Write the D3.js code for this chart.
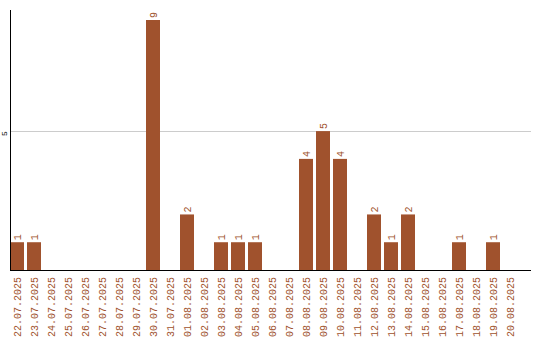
<!DOCTYPE html>
<html>
<head>
<meta charset="utf-8">
<script src="https://cdn.jsdelivr.net/npm/d3@7"></script>
<style>
    body { margin: 0; background: #fff; }
    .bar-label, .date-label { font-family: "Liberation Mono", "DejaVu Sans Mono", monospace; font-size: 10px; fill: #a0522d; }
    .tick-label { font-family: "Liberation Mono", monospace; font-size: 8px; fill: #000; }
</style>
</head>
<body>
<div id="chart"></div>
<script>
// Daily counts
const dates = ["22.07.2025", "23.07.2025", "24.07.2025", "25.07.2025", "26.07.2025", "27.07.2025",
    "28.07.2025", "29.07.2025", "30.07.2025", "31.07.2025", "01.08.2025", "02.08.2025",
    "03.08.2025", "04.08.2025", "05.08.2025", "06.08.2025", "07.08.2025", "08.08.2025",
    "09.08.2025", "10.08.2025", "11.08.2025", "12.08.2025", "13.08.2025", "14.08.2025",
    "15.08.2025", "16.08.2025", "17.08.2025", "18.08.2025", "19.08.2025", "20.08.2025"];
const counts = [1, 1, 0, 0, 0, 0, 0, 0, 9, 0, 2, 0, 1, 1, 1, 0, 0, 4, 5, 4, 0, 2, 1, 2, 0, 0, 1, 0, 1, 0];
const yTicks = [5];

const data = dates.map((d, i) => ({ date: d, count: counts[i] }));

const width = 540, height = 340;
const left = 10, baseY = 270, topY = 10, right = 531;

const svg = d3.select("#chart")
    .append("svg")
    .attr("width", width)
    .attr("height", height);

const x = d3.scaleBand()
    .domain(dates)
    .range([left, left + 17 * dates.length - 3])
    .paddingInner(3 / 17)
    .paddingOuter(0);

const y = d3.scaleLinear()
    .domain([0, 9.36])
    .range([baseY, topY]);

// gridlines
svg.selectAll(".grid")
    .data(yTicks)
    .join("line")
    .attr("x1", left + 1)
    .attr("x2", right)
    .attr("y1", d => Math.round(y(d)) + 0.5)
    .attr("y2", d => Math.round(y(d)) + 0.5)
    .attr("stroke", "#ccc");

// tick labels
svg.selectAll(".tick-label")
    .data(yTicks)
    .join("text")
    .attr("class", "tick-label")
    .attr("transform", d => `translate(7, ${y(d)}) rotate(-90)`)
    .attr("text-anchor", "end")
    .text(d => d);

// bars
svg.selectAll(".bar")
    .data(data.filter(d => d.count > 0))
    .join("rect")
    .attr("class", "bar")
    .attr("x", d => x(d.date))
    .attr("y", d => y(d.count))
    .attr("width", x.bandwidth())
    .attr("height", d => baseY - y(d.count))
    .attr("fill", "#a0522d");

// value labels
svg.selectAll(".bar-label")
    .data(data.filter(d => d.count > 0))
    .join("text")
    .attr("class", "bar-label")
    .attr("transform", d => `translate(${x(d.date) + x.bandwidth() / 2 + 3.5}, ${y(d.count) - 2}) rotate(-90)`)
    .attr("text-anchor", "start")
    .text(d => d.count);

// axes lines
svg.append("line")
    .attr("x1", left + 0.5).attr("x2", left + 0.5)
    .attr("y1", topY).attr("y2", baseY)
    .attr("stroke", "#000");
svg.append("line")
    .attr("x1", left).attr("x2", right)
    .attr("y1", baseY + 0.5).attr("y2", baseY + 0.5)
    .attr("stroke", "#000");

// date labels
svg.selectAll(".date-label")
    .data(dates)
    .join("text")
    .attr("class", "date-label")
    .attr("transform", d => `translate(${x(d) + x.bandwidth() / 2 + 3.5}, ${baseY + 7}) rotate(-90)`)
    .attr("text-anchor", "end")
    .text(d => d);
</script>
</body>
</html>
